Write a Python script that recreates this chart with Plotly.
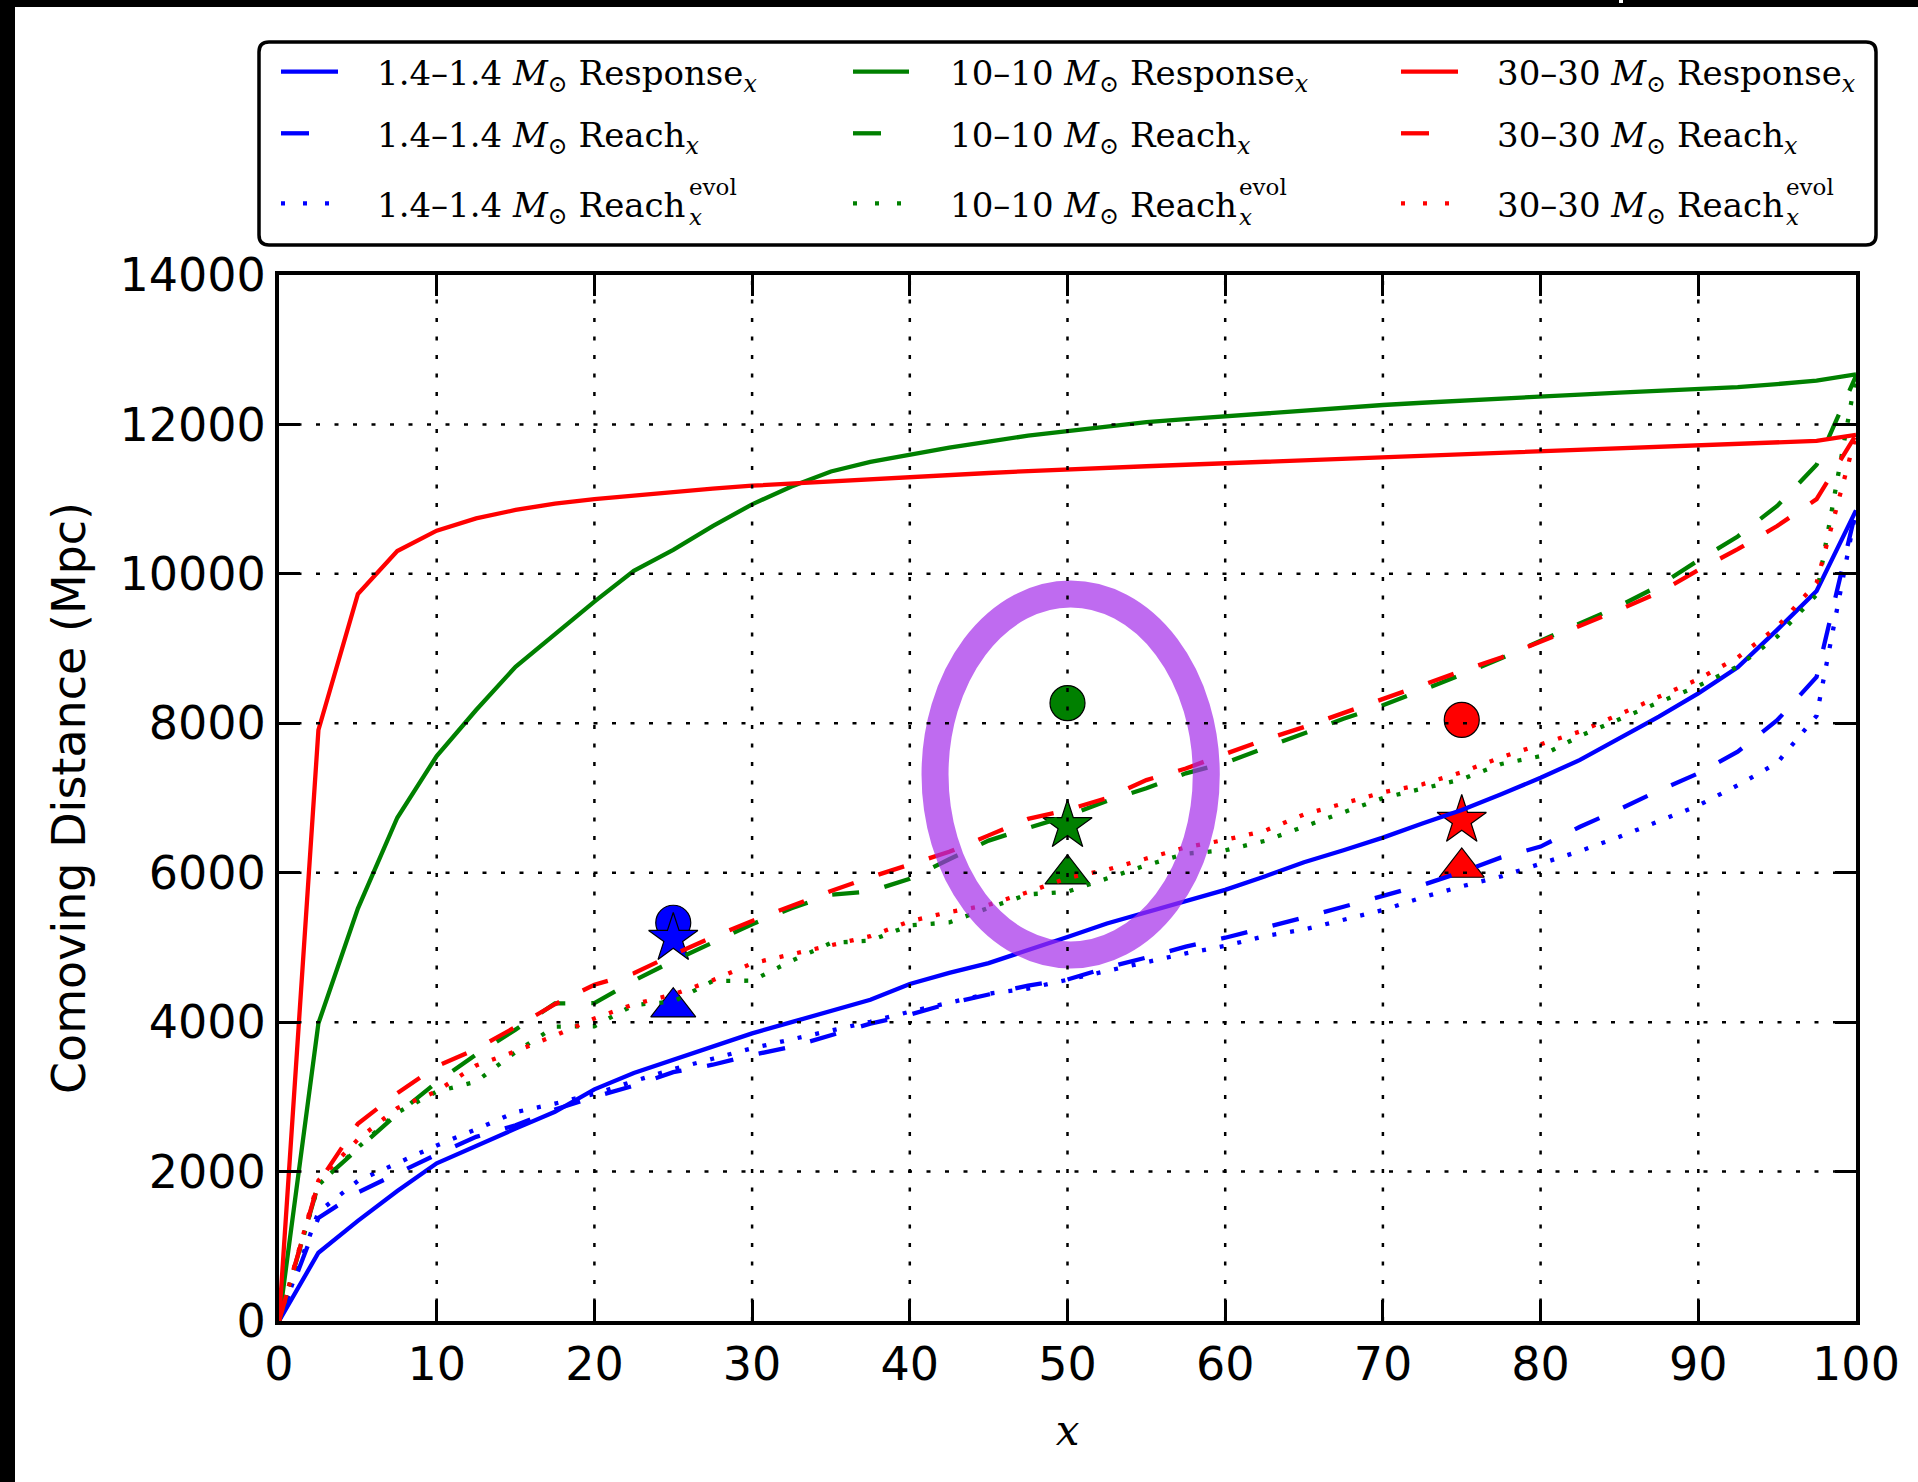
import plotly.graph_objects as go

# ---------------- data ----------------
x_pct = [0, 2.5, 5, 7.5, 10, 12.5, 15, 17.5, 20, 22.5, 25, 27.5, 30, 32.5, 35, 37.5, 40, 42.5, 45, 47.5,
         50, 52.5, 55, 57.5, 60, 62.5, 65, 67.5, 70, 72.5, 75, 77.5, 80, 82.5, 85, 87.5, 90, 92.5, 95, 97.5, 100]

resp_14 = [0, 914, 1340, 1740, 2110, 2350, 2575, 2800, 3100, 3320, 3500, 3680, 3850, 4000, 4150, 4300, 4510,
           4660, 4790, 4960, 5140, 5320, 5470, 5620, 5770, 5950, 6140, 6300, 6470, 6660, 6840, 7050, 7270, 7510,
           7800, 8090, 8400, 8750, 9250, 9770, 10850]
reach_14 = [0, 1380, 1720, 1980, 2230, 2465, 2620, 2830, 3000, 3150, 3330, 3430, 3560, 3670, 3820, 3980, 4100,
            4250, 4370, 4490, 4570, 4730, 4865, 5010, 5130, 5260, 5400, 5545, 5690, 5835, 6010, 6205, 6350, 6615,
            6850, 7100, 7330, 7620, 8040, 8620, 10850]
evol_14 = [0, 1460, 1875, 2115, 2350, 2565, 2795, 2910, 3040, 3210, 3370, 3510, 3650, 3770, 3890, 4005, 4140,
           4260, 4380, 4450, 4570, 4690, 4800, 4920, 5020, 5150, 5240, 5370, 5500, 5670, 5818, 5950, 6117, 6290,
           6480, 6690, 6900, 7170, 7470, 8100, 10850]

resp_10 = [0, 3984, 5520, 6736, 7562, 8178, 8757, 9200, 9628, 10040, 10320, 10640, 10930, 11170, 11370, 11500,
           11600, 11690, 11770, 11850, 11910, 11970, 12030, 12070, 12110, 12150, 12190, 12230, 12260, 12290, 12320,
           12345, 12370, 12400, 12425, 12450, 12470, 12500, 12540, 12585, 12670]
reach_10 = [0, 1830, 2305, 2770, 3195, 3565, 3900, 4250, 4255, 4555, 4820, 5065, 5310, 5525, 5705, 5750, 5920,
            6180, 6430, 6600, 6760, 6960, 7130, 7330, 7470, 7670, 7870, 8060, 8240, 8440, 8650, 8870, 9100, 9330,
            9570, 9840, 10180, 10500, 10910, 11460, 12650]
evol_10 = [0, 1820, 2320, 2790, 3070, 3203, 3600, 3939, 3945, 4230, 4275, 4550, 4555, 4820, 5060, 5090, 5295,
           5335, 5530, 5710, 5745, 5930, 6100, 6255, 6300, 6425, 6620, 6820, 7000, 7125, 7250, 7455, 7560, 7830,
           8060, 8280, 8500, 8760, 9160, 9720, 12650]

resp_30 = [0, 7910, 9730, 10306, 10578, 10743, 10855, 10940, 11000, 11050, 11100, 11140, 11180, 11210, 11240,
           11270, 11300, 11330, 11350, 11375, 11400, 11420, 11440, 11460, 11480, 11500, 11520, 11540, 11560, 11580,
           11600, 11620, 11640, 11660, 11680, 11700, 11715, 11735, 11755, 11780, 11860]
reach_30 = [0, 1850, 2640, 3050, 3410, 3640, 3935, 4240, 4500, 4655, 4905, 5140, 5355, 5560, 5755, 5940, 6110,
            6280, 6500, 6720, 6840, 7000, 7240, 7395, 7590, 7780, 7950, 8140, 8330, 8510, 8700, 8880, 9090, 9300,
            9520, 9750, 10050, 10330, 10640, 11000, 11860]
evol_30 = [0, 1880, 2430, 2850, 3075, 3420, 3610, 3820, 4050, 4240, 4370, 4560, 4787, 4910, 5020, 5150, 5350,
           5474, 5570, 5740, 5930, 6040, 6190, 6340, 6440, 6560, 6780, 6930, 7075, 7183, 7345, 7545, 7725, 7890,
           8120, 8360, 8590, 8880, 9290, 9880, 11860]

marker_x = [25, 50, 75]
circle_y = [5330, 8270, 8045]
star_y = [5120, 6630, 6700]
triangle_y = [4200, 5980, 6070]

mass_labels = ["1.4\u20131.4", "10\u201310", "30\u201330"]
series_names = ["Response", "Reach", "Reach"]

x_ticks = [0, 10, 20, 30, 40, 50, 60, 70, 80, 90, 100]
y_ticks = [0, 2000, 4000, 6000, 8000, 10000, 12000, 14000]

highlight_x = [41.6, 58.8]
highlight_y = [4899, 9731]

# ---------------- styling ----------------
W, H = 1918, 1482
L, R, T, B = 279, 62, 275, 161
PW = W - L - R
PH = H - T - B


def px(x):
    return (x - L) / PW


def py(y):
    return (H - B - y) / PH


BLUE, GREEN, RED = "#0000ff", "#008000", "#ff0000"
colors = [BLUE, GREEN, RED]
DASH = "27px,26px"
DOT = "4px,14px"
LW = 4.3

fig = go.Figure()

# markers (drawn first: lines go over them)
fig.add_trace(go.Scatter(x=marker_x, y=circle_y, mode="markers",
                         marker=dict(symbol="circle", size=35, color=colors,
                                     line=dict(color="black", width=1.2)),
                         showlegend=False, hoverinfo="skip"))
fig.add_trace(go.Scatter(x=marker_x, y=star_y, mode="markers",
                         marker=dict(symbol="star", size=37, color=colors,
                                     line=dict(color="black", width=1.2)),
                         showlegend=False, hoverinfo="skip"))
fig.add_trace(go.Scatter(x=marker_x, y=triangle_y, mode="markers",
                         marker=dict(symbol="triangle-up", size=39, color=colors,
                                     line=dict(color="black", width=1.2)),
                         showlegend=False, hoverinfo="skip"))

groups = [
    (mass_labels[0], BLUE, resp_14, reach_14, evol_14),
    (mass_labels[1], GREEN, resp_10, reach_10, evol_10),
    (mass_labels[2], RED, resp_30, reach_30, evol_30),
]
for lab, col, r, re, ev in groups:
    fig.add_trace(go.Scatter(x=x_pct, y=r, mode="lines", name=f"{lab} Response",
                             line=dict(color=col, width=LW), showlegend=False))
    fig.add_trace(go.Scatter(x=x_pct, y=re, mode="lines", name=f"{lab} Reach",
                             line=dict(color=col, width=LW, dash=DASH), showlegend=False))
    fig.add_trace(go.Scatter(x=x_pct, y=ev, mode="lines", name=f"{lab} Reach evol",
                             line=dict(color=col, width=LW, dash=DOT), showlegend=False))

shapes = []
# black frame remnants of the original screenshot
shapes.append(dict(type="rect", xref="paper", yref="paper", x0=px(0), x1=px(15), y0=py(H), y1=py(0),
                   fillcolor="black", line=dict(width=0), layer="above"))
shapes.append(dict(type="rect", xref="paper", yref="paper", x0=px(0), x1=px(W), y0=py(7), y1=py(0),
                   fillcolor="black", line=dict(width=0), layer="above"))
shapes.append(dict(type="rect", xref="paper", yref="paper", x0=px(1619), x1=px(1623), y0=py(3), y1=py(0),
                   fillcolor="white", line=dict(width=0), layer="above"))

# highlight ellipse
shapes.append(dict(type="circle", xref="x", yref="y", x0=highlight_x[0], x1=highlight_x[1],
                   y0=highlight_y[0], y1=highlight_y[1],
                   line=dict(color="rgb(165,45,234)", width=27), opacity=0.7, layer="above"))

# dotted grid above everything (as in the original)
GRID = dict(color="black", width=2.5, dash="4px,14.5px")
for v in x_ticks[1:-1]:
    shapes.append(dict(type="line", xref="x", yref="y domain", x0=v, x1=v, y0=0, y1=1,
                       line=GRID, layer="above"))
for v in y_ticks[1:-1]:
    shapes.append(dict(type="line", xref="x domain", yref="y", x0=0, x1=1, y0=v, y1=v,
                       line=GRID, layer="above"))

# legend box (rounded)
lx0, lx1, ly0, ly1 = px(259), px(1876), py(245), py(42)
rx, ry = 10 / PW, 10 / PH
path = (f"M{lx0+rx},{ly1} L{lx1-rx},{ly1} Q{lx1},{ly1} {lx1},{ly1-ry} "
        f"L{lx1},{ly0+ry} Q{lx1},{ly0} {lx1-rx},{ly0} L{lx0+rx},{ly0} "
        f"Q{lx0},{ly0} {lx0},{ly0+ry} L{lx0},{ly1-ry} Q{lx0},{ly1} {lx0+rx},{ly1} Z")
shapes.append(dict(type="path", xref="paper", yref="paper", path=path, fillcolor="white",
                   line=dict(color="black", width=3.5), layer="above"))

col_line_x = [(281, 338), (853, 909), (1401, 1458)]
col_text_x = [375, 948, 1495]
row_y = [71.7, 133.3, 203.3]
row_dash = ["solid", "28px,60px", "4px,18px"]

annotations = []
LEG_FONT = dict(family="DejaVu Serif", size=34, color="black")
SMALL_FONT = dict(family="DejaVu Serif", size=23, color="black")
for ci in range(3):
    for ri in range(3):
        shapes.append(dict(type="line", xref="paper", yref="paper",
                           x0=px(col_line_x[ci][0]), x1=px(col_line_x[ci][1]),
                           y0=py(row_y[ri]), y1=py(row_y[ri]),
                           line=dict(color=colors[ci], width=LW, dash=row_dash[ri]), layer="above"))
        if ri < 2:
            txt = f"{mass_labels[ci]} <i>M</i><sub>\u2299</sub> {series_names[ri]}<sub><i>x</i></sub>"
        else:
            txt = f"{mass_labels[ci]} <i>M</i><sub>\u2299</sub> {series_names[ri]}"
        annotations.append(dict(xref="paper", yref="paper", x=px(col_text_x[ci]), y=py(row_y[ri] + 4),
                                xanchor="left", yanchor="middle", text=txt, showarrow=False,
                                font=LEG_FONT))

# stacked super/subscript "evol / x" after "Reach" in the third row
evol_x = [687, 1237, 1784]
for ci in range(3):
    annotations.append(dict(xref="paper", yref="paper", x=px(evol_x[ci]), y=py(202),
                            xanchor="left", yanchor="middle", align="left",
                            text="evol<br><i>x</i>", showarrow=False, font=SMALL_FONT))

fig.update_layout(
    width=W, height=H, template="none",
    margin=dict(l=L, r=R, t=T, b=B, pad=0),
    paper_bgcolor="white", plot_bgcolor="white",
    showlegend=False, shapes=shapes, annotations=annotations,
)

AX = dict(showline=True, linewidth=4, linecolor="black", mirror="allticks",
          ticks="inside", ticklen=21, tickwidth=2.5, tickcolor="black",
          showgrid=False, zeroline=False, layer="above traces", automargin=False,
          tickfont=dict(family="DejaVu Sans", size=46, color="black"))

fig.update_xaxes(range=[0, 100], tickvals=x_ticks, ticktext=[str(v) for v in x_ticks],
                 ticklabelstandoff=0,
                 title=dict(text="<i>x</i>", font=dict(family="DejaVu Serif", size=42, color="black"),
                            standoff=26), **AX)
fig.update_yaxes(range=[0, 14000], tickvals=y_ticks, ticktext=[str(v) for v in y_ticks],
                 ticklabelstandoff=0,
                 title=dict(text="Comoving Distance (Mpc)",
                            font=dict(family="DejaVu Sans", size=46, color="black"), standoff=20), **AX)

fig.write_html("out.html")
